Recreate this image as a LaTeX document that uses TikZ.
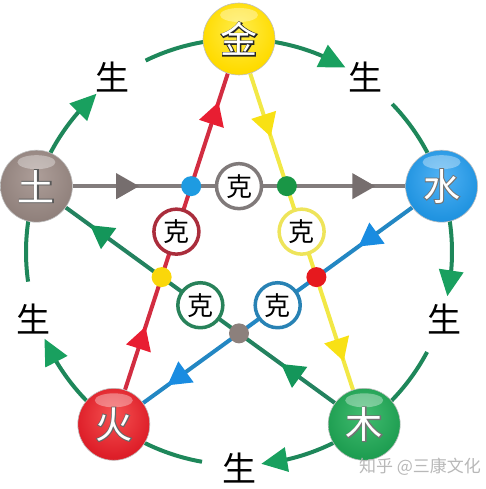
\documentclass[tikz,border=0pt]{standalone}
\usepackage{fontspec}
\newfontfamily\cjk{Noto Sans CJK SC}
\newfontfamily\cjkfb[FakeBold=5]{Noto Sans CJK SC}
\usetikzlibrary{arrows.meta,bending,decorations.markings,calc}
\pgfdeclarelayer{layA}\pgfdeclarelayer{layB}\pgfsetlayers{layA,layB,main}
\definecolor{arcgreen}{RGB}{30,135,90}
\definecolor{arcarrow}{RGB}{25,160,95}
\definecolor{lred}{RGB}{210,45,65}
\definecolor{ared}{RGB}{232,30,50}
\definecolor{lyellow}{RGB}{242,232,70}
\definecolor{ayellow}{RGB}{248,225,20}
\definecolor{lgreen}{RGB}{35,130,95}
\definecolor{agreen}{RGB}{20,150,90}
\definecolor{lblue}{RGB}{35,135,195}
\definecolor{ablue}{RGB}{25,140,225}
\definecolor{lgray}{RGB}{130,124,124}
\definecolor{agray}{RGB}{118,110,110}
\definecolor{dblue}{RGB}{30,155,225}
\definecolor{dgreen}{RGB}{25,150,70}
\definecolor{dred}{RGB}{230,25,30}
\definecolor{dgray}{RGB}{140,128,124}
\definecolor{dyellow}{RGB}{250,215,10}
\definecolor{rgray}{RGB}{128,122,122}
\definecolor{ryellow}{RGB}{238,228,90}
\definecolor{rblue}{RGB}{40,130,180}
\definecolor{rgreen}{RGB}{40,130,90}
\definecolor{rred}{RGB}{170,45,60}
\pgfdeclareradialshading{sjin}{\pgfpoint{0bp}{8bp}}{rgb(0bp)=(1,0.93,0.3); rgb(26bp)=(1,0.86,0); rgb(44bp)=(0.97,0.78,0); rgb(50bp)=(0.86,0.6,0)}
\pgfdeclareradialshading{stu}{\pgfpoint{0bp}{8bp}}{rgb(0bp)=(0.68,0.62,0.6); rgb(26bp)=(0.57,0.51,0.49); rgb(44bp)=(0.48,0.42,0.4); rgb(50bp)=(0.37,0.31,0.3)}
\pgfdeclareradialshading{sshui}{\pgfpoint{0bp}{8bp}}{rgb(0bp)=(0.32,0.7,0.96); rgb(26bp)=(0.13,0.58,0.88); rgb(44bp)=(0.08,0.5,0.82); rgb(50bp)=(0.05,0.37,0.66)}
\pgfdeclareradialshading{shuo}{\pgfpoint{0bp}{8bp}}{rgb(0bp)=(0.96,0.32,0.32); rgb(26bp)=(0.87,0.12,0.16); rgb(44bp)=(0.78,0.07,0.1); rgb(50bp)=(0.58,0.03,0.06)}
\pgfdeclareradialshading{smu}{\pgfpoint{0bp}{8bp}}{rgb(0bp)=(0.26,0.74,0.44); rgb(26bp)=(0.12,0.62,0.32); rgb(44bp)=(0.08,0.54,0.27); rgb(50bp)=(0.04,0.4,0.18)}
\newcommand\outl[2]{{\rlap{\cjkfb\fontsize{37}{37}\selectfont\color{#1}#2}\color{white}#2}}
\tikzset{
  elem/.style={circle, minimum size=72pt, inner sep=0pt, shading=#1, draw=black!25, line width=0.6pt},
  elemtext/.style={inner sep=0pt, font=\cjk\fontsize{37}{37}\selectfont},
  sheng/.style={inner sep=0pt, font=\cjk\fontsize{34}{34}\selectfont, text=black},
  kering/.style={circle, draw=#1, line width=3.5pt, fill=white, minimum size=45pt, inner sep=0pt, font=\cjk\fontsize{26}{26}\selectfont},
  xdot/.style={circle, fill=#1, minimum size=20pt, inner sep=0pt},
  arcline/.style={line width=4pt, draw=arcgreen},
  arctip/.style={-{Triangle[length=26pt,width=24pt,color=arcarrow]}},
  starline/.style 2 args={line width=4pt, draw=#1, postaction={decorate},
    decoration={markings,
      mark=at position 0.2 with {\arrow{Triangle[length=23pt,width=25pt,color=#2]}},
      mark=at position 0.91 with {\arrow{Triangle[length=23pt,width=25pt,color=#2]}}}}
}
\begin{document}
\begin{tikzpicture}[x=1pt,y=1pt]
\useasboundingbox (0,0) rectangle (485,489);
\coordinate (C) at (239,237);
% element nodes
\node[elem=sjin]  (jin)  at ($(C)+(90:213pt)$) {};
\node[elem=sshui] (shui) at ($(C)+(18:213pt)$) {};
\node[elem=smu]   (mu)   at ($(C)+(-54:213pt)$) {};
\node[elem=shuo]  (huo)  at ($(C)+(-126:213pt)$) {};
\node[elem=stu]   (tu)   at ($(C)+(162:213pt)$) {};
\foreach \n in {jin,shui,mu,huo,tu}
  \fill[white,opacity=.35] ($(\n)+(0,24)$) ellipse[x radius=19pt, y radius=7pt];
\node[elemtext] (jinT)  at (jin)  {\outl{black!85}{金}};
\node[elemtext] (shuiT) at (shui) {\outl{black!55}{水}};
\node[elemtext] (muT)   at (mu)   {\outl{black!55}{木}};
\node[elemtext] (huoT)  at (huo)  {\outl{black!60}{火}};
\node[elemtext] (tuT)   at (tu)   {\outl{black!65}{土}};
% outer cycle
\begin{pgfonlayer}{layA}
\draw[arcline,arctip] (tu.center) arc[start angle=162, end angle=132, radius=213pt];
\draw[arcline] ($(C)+(116:213pt)$) arc[start angle=116, end angle=90, radius=213pt];
\draw[arcline,arctip] (jin.center) arc[start angle=90, end angle=60, radius=213pt];
\draw[arcline] ($(C)+(44:213pt)$) arc[start angle=44, end angle=18, radius=213pt];
\draw[arcline,arctip] (shui.center) arc[start angle=18, end angle=-12, radius=213pt];
\draw[arcline] ($(C)+(-28:213pt)$) arc[start angle=-28, end angle=-54, radius=213pt];
\draw[arcline,arctip] (mu.center) arc[start angle=-54, end angle=-84, radius=213pt];
\draw[arcline] ($(C)+(-100:213pt)$) arc[start angle=-100, end angle=-126, radius=213pt];
\draw[arcline,arctip] (huo.center) arc[start angle=-126, end angle=-156, radius=213pt];
\draw[arcline] ($(C)+(-172:213pt)$) arc[start angle=-172, end angle=-198, radius=213pt];
% star
\draw[starline={lred}{ared}] (huo) -- (jin);
\draw[starline={lyellow}{ayellow}] (jin) -- (mu);
\draw[starline={lgreen}{agreen}] (mu) -- (tu);
\draw[starline={lgray}{agray}] (tu) -- (shui);
\draw[starline={lblue}{ablue}] (shui) -- (huo);
\end{pgfonlayer}
% labels
\node[sheng] (s1) at ($(C)+(126:216pt)$) {生};
\node[sheng] (s2) at ($(C)+(54:216pt)$) {生};
\node[sheng] (s3) at ($(C)+(-18:216pt)$) {生};
\node[sheng] (s4) at ($(C)+(-90:216pt)$) {生};
\node[sheng] (s5) at ($(C)+(-162:216pt)$) {生};
% intersections
\coordinate (pB) at (intersection of tu.center--shui.center and huo.center--jin.center);
\coordinate (pG) at (intersection of tu.center--shui.center and jin.center--mu.center);
\coordinate (pR) at (intersection of jin.center--mu.center and shui.center--huo.center);
\coordinate (pK) at (intersection of shui.center--huo.center and mu.center--tu.center);
\coordinate (pY) at (intersection of mu.center--tu.center and huo.center--jin.center);
\begin{pgfonlayer}{layB}
\node[xdot=dblue]   (dB) at (pB) {};
\node[xdot=dgreen]  (dG) at (pG) {};
\node[xdot=dred]    (dR) at (pR) {};
\node[xdot=dgray]   (dK) at (pK) {};
\node[xdot=dyellow] (dY) at (pY) {};
\node[kering=rgray]   (k1) at ($(pB)!0.5!(pG)$) {克};
\node[kering=ryellow] (k2) at ($(pG)!0.5!(pR)$) {克};
\node[kering=rblue]   (k3) at ($(pR)!0.5!(pK)$) {克};
\node[kering=rgreen]  (k4) at ($(pK)!0.5!(pY)$) {克};
\node[kering=rred]    (k5) at ($(pY)!0.5!(pB)$) {克};
\end{pgfonlayer}
\node[font=\cjk\fontsize{17}{17}\selectfont, text=black!28, inner sep=0pt] (wm) at (420,22) {知乎 @三康文化};
\end{tikzpicture}
\end{document}
